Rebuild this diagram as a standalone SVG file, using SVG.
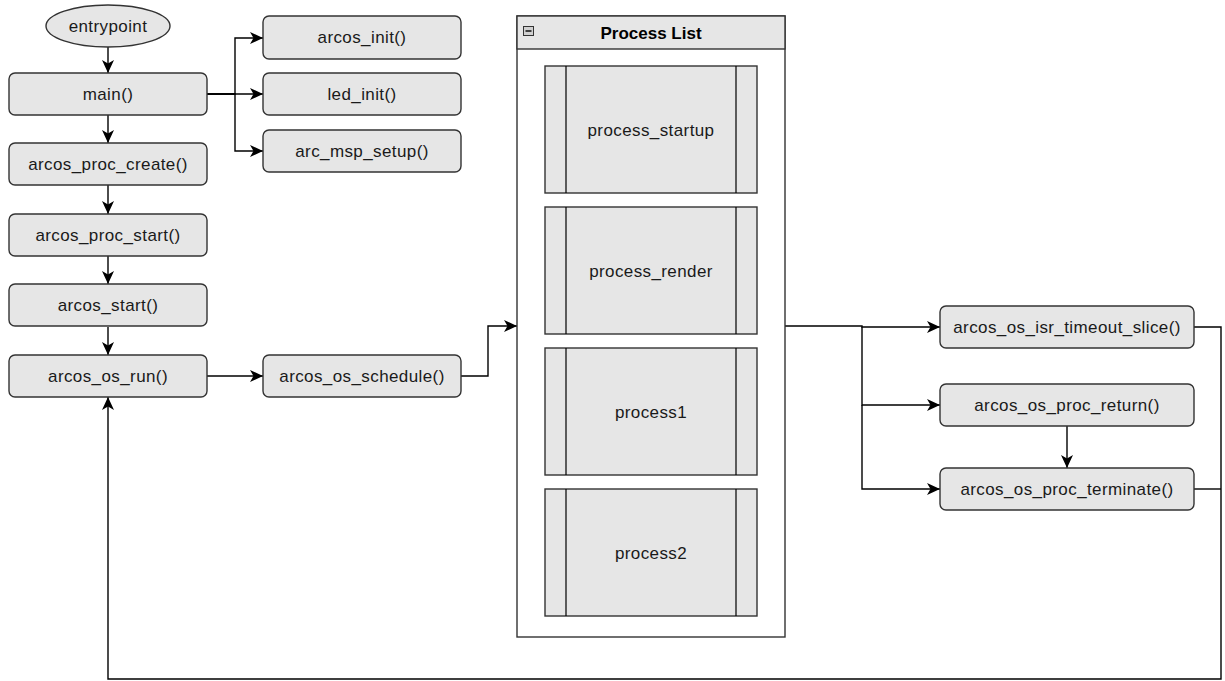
<svg xmlns="http://www.w3.org/2000/svg" width="1225" height="681" viewBox="0 0 1225 681">
  <defs>
    <style>
      .node { fill: #e6e6e6; stroke: #333333; stroke-width: 1.4; }
      .label { font-family: "Liberation Sans", Arial, sans-serif; font-size: 17px; letter-spacing: 0.4px; fill: #1a1a1a; text-anchor: middle; }
      .title { font-family: "Liberation Sans", Arial, sans-serif; font-size: 17px; font-weight: bold; fill: #000; text-anchor: middle; }
      .edge { fill: none; stroke: #000; stroke-width: 1.4; }
      .arrow { marker-end: url(#arrowhead); }
      .frame { fill: #ffffff; stroke: #333333; stroke-width: 1.4; }
      .sub { fill: none; stroke: #000; stroke-width: 1.2; }
    </style>
    <marker id="arrowhead" viewBox="0 0 13 12" refX="13" refY="6" markerWidth="13" markerHeight="12" orient="auto" markerUnits="userSpaceOnUse">
      <path d="M0,0 L13,6 L0,12 L3.5,6 Z" fill="#000"/>
    </marker>
  </defs>

  <rect width="1225" height="681" fill="#ffffff"/>

  <!-- connectors -->
  <g id="connectors">
    <path class="edge arrow" d="M108,47 V73"/>
    <path class="edge arrow" d="M108,115 V143"/>
    <path class="edge arrow" d="M108,185 V214"/>
    <path class="edge arrow" d="M108,256 V284"/>
    <path class="edge arrow" d="M108,327 V355"/>
    <path class="edge arrow" d="M207,94 H263"/>
    <path class="edge arrow" d="M207,94 H235 V38 H263"/>
    <path class="edge arrow" d="M207,94 H235 V151 H263"/>
    <path class="edge arrow" d="M207,376 H263"/>
    <path class="edge arrow" d="M461,376 H488 V326 H517"/>
    <path class="edge arrow" d="M785,326 H862 V327 H940"/>
    <path class="edge arrow" d="M862,327 V405 H940"/>
    <path class="edge arrow" d="M862,405 V489 H940"/>
    <path class="edge arrow" d="M1067,426 V468"/>
    <path class="edge arrow" d="M1194,327 H1221 V679 H108 V397"/>
    <path class="edge" d="M1194,489 H1221"/>
  </g>

  <!-- startup chain -->
  <g id="entrypoint">
    <ellipse class="node" cx="108" cy="26" rx="62" ry="21"/>
    <text class="label" x="108" y="32">entrypoint</text>
  </g>
  <g id="main">
    <rect class="node" x="9" y="73" width="198" height="42" rx="6"/>
    <text class="label" x="108" y="100">main()</text>
  </g>
  <g id="arcos_proc_create">
    <rect class="node" x="9" y="143" width="198" height="42" rx="6"/>
    <text class="label" x="108" y="170">arcos_proc_create()</text>
  </g>
  <g id="arcos_proc_start">
    <rect class="node" x="9" y="214" width="198" height="42" rx="6"/>
    <text class="label" x="108" y="241">arcos_proc_start()</text>
  </g>
  <g id="arcos_start">
    <rect class="node" x="9" y="284" width="198" height="42" rx="6"/>
    <text class="label" x="108" y="311">arcos_start()</text>
  </g>
  <g id="arcos_os_run">
    <rect class="node" x="9" y="355" width="198" height="42" rx="6"/>
    <text class="label" x="108" y="382">arcos_os_run()</text>
  </g>

  <!-- init calls from main -->
  <g id="arcos_init">
    <rect class="node" x="263" y="16" width="198" height="43" rx="6"/>
    <text class="label" x="362" y="43">arcos_init()</text>
  </g>
  <g id="led_init">
    <rect class="node" x="263" y="73" width="198" height="42" rx="6"/>
    <text class="label" x="362" y="100">led_init()</text>
  </g>
  <g id="arc_msp_setup">
    <rect class="node" x="263" y="130" width="198" height="42" rx="6"/>
    <text class="label" x="362" y="157">arc_msp_setup()</text>
  </g>
  <g id="arcos_os_schedule">
    <rect class="node" x="263" y="355" width="198" height="42" rx="6"/>
    <text class="label" x="362" y="382">arcos_os_schedule()</text>
  </g>

  <!-- process list container -->
  <g id="process_list">
    <rect class="frame" x="517" y="16" width="268" height="621"/>
    <rect class="node" x="517" y="16" width="268" height="33"/>
    <rect x="523.5" y="26.5" width="10" height="9" fill="#d0d0d0" stroke="#333" stroke-width="1"/>
    <line x1="525.5" y1="31" x2="531.5" y2="31" stroke="#000" stroke-width="1.4"/>
    <text class="title" x="651" y="39">Process List</text>
  </g>
  <g id="process_startup">
    <rect class="node" x="545" y="66" width="212" height="127"/>
    <path class="sub" d="M566,66 V193 M736,66 V193"/>
    <text class="label" x="651" y="136">process_startup</text>
  </g>
  <g id="process_render">
    <rect class="node" x="545" y="207" width="212" height="127"/>
    <path class="sub" d="M566,207 V334 M736,207 V334"/>
    <text class="label" x="651" y="277">process_render</text>
  </g>
  <g id="process1">
    <rect class="node" x="545" y="348" width="212" height="127"/>
    <path class="sub" d="M566,348 V475 M736,348 V475"/>
    <text class="label" x="651" y="418">process1</text>
  </g>
  <g id="process2">
    <rect class="node" x="545" y="489" width="212" height="127"/>
    <path class="sub" d="M566,489 V616 M736,489 V616"/>
    <text class="label" x="651" y="559">process2</text>
  </g>

  <!-- scheduler exits -->
  <g id="arcos_os_isr_timeout_slice">
    <rect class="node" x="940" y="306" width="254" height="42" rx="6"/>
    <text class="label" x="1067" y="333">arcos_os_isr_timeout_slice()</text>
  </g>
  <g id="arcos_os_proc_return">
    <rect class="node" x="940" y="384" width="254" height="42" rx="6"/>
    <text class="label" x="1067" y="411">arcos_os_proc_return()</text>
  </g>
  <g id="arcos_os_proc_terminate">
    <rect class="node" x="940" y="468" width="254" height="42" rx="6"/>
    <text class="label" x="1067" y="495">arcos_os_proc_terminate()</text>
  </g>
</svg>
